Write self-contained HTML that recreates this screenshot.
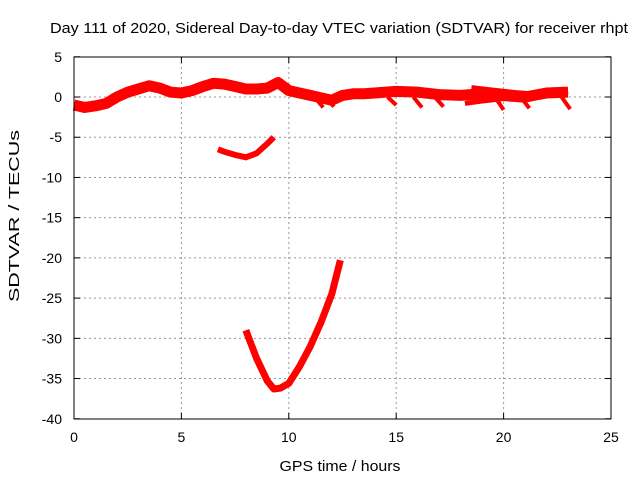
<!DOCTYPE html>
<html><head><meta charset="utf-8"><style>
body{margin:0;background:#fff;}
svg{display:block;font-family:"Liberation Sans",sans-serif;}
</style></head><body>
<svg id="c" width="640" height="480">
<text x="339" y="33" font-size="15" text-anchor="middle" textLength="578" lengthAdjust="spacingAndGlyphs">Day 111 of 2020, Sidereal Day-to-day VTEC variation (SDTVAR) for receiver rhpt</text>
<text x="340" y="471" font-size="15" text-anchor="middle" textLength="121" lengthAdjust="spacingAndGlyphs">GPS time / hours</text>
<text x="19" y="216" font-size="15" text-anchor="middle" textLength="172" lengthAdjust="spacingAndGlyphs" transform="rotate(-90 19 216)">SDTVAR / TECUs</text>
<g id="grid"></g><g id="ticks"></g><g id="series"></g>
<rect x="74" y="57" width="537" height="362" fill="none" stroke="#000"/>
</svg>
<script>
const xTicks=[0,5,10,15,20,25];
const yTicks=[5,0,-5,-10,-15,-20,-25,-30,-35,-40];
const bandTime=[0,0.5,1,1.5,2,2.5,3,3.5,4,4.5,5,5.5,6,6.5,7,7.5,8,8.5,9,9.5,10,10.5,11,11.5,12,12.5,13,13.5,14,15,16,17,18,19,20,21,22,23];
const bandValue=[-1,-1.3,-1.1,-0.8,0,0.6,1,1.4,1.1,0.6,0.5,0.8,1.3,1.7,1.6,1.3,1.0,1.0,1.1,1.8,0.8,0.5,0.2,-0.1,-0.4,0.2,0.4,0.4,0.5,0.7,0.6,0.3,0.2,0.4,0.3,0,0.5,0.6];
const strandTime=[18.5,19.5,20.5,21.5,22.5,23];
const strandValue=[1.1,0.8,0.5,0.3,0.6,0.8];
const lowTime=[18.2,19,20,21,21.5];
const lowValue=[-0.8,-0.5,-0.2,-0.4,-0.1];
const spikeTime=[11.2,11.7,14.6,15.8,16.8,19.6,20.8,22.7];
const spikeValue=[-1.3,-1.2,-1.0,-1.3,-1.2,-1.6,-1.4,-1.5];
const arc1Time=[6.7,7,7.5,8,8.5,9,9.3];
const arc1Value=[-6.5,-6.8,-7.2,-7.5,-7,-5.8,-5];
const arc2Time=[8,8.5,9,9.3,9.6,10,10.5,11,11.5,12,12.4];
const arc2Value=[-29,-32.5,-35.3,-36.3,-36.2,-35.6,-33.5,-31,-28,-24.5,-20.3];
const NS="http://www.w3.org/2000/svg";
const X=t=>74+t*537/25, Y=v=>97-v*8.044;
function mk(tag,attrs,parent){const e=document.createElementNS(NS,tag);for(const k in attrs)e.setAttribute(k,attrs[k]);document.getElementById(parent).appendChild(e);return e;}
xTicks.forEach(t=>{
 if(t>0&&t<25){const g=mk('line',{x1:X(t),x2:X(t),y1:57,y2:419,stroke:'#999','stroke-dasharray':'2,3'},'grid');
 
 }
 mk('line',{x1:X(t),x2:X(t),y1:419,y2:413,stroke:'#000'},'ticks');
 mk('line',{x1:X(t),x2:X(t),y1:57,y2:63,stroke:'#000'},'ticks');
 const l=mk('text',{x:X(t),y:442,'font-size':14,'text-anchor':'middle'},'ticks');l.textContent=t;
 
 
});
yTicks.forEach(v=>{
 if(v<5&&v>-40){const g=mk('line',{x1:74,x2:611,y1:Y(v),y2:Y(v),stroke:'#999','stroke-dasharray':'2,3'},'grid');
 
 }
 mk('line',{x1:74,x2:80,y1:Y(v),y2:Y(v),stroke:'#000'},'ticks');
 mk('line',{x1:605,x2:611,y1:Y(v),y2:Y(v),stroke:'#000'},'ticks');
 const l=mk('text',{x:62,y:Y(v)+5,'font-size':14,'text-anchor':'end'},'ticks');l.textContent=v;
 
 
});
function line(ts,vs,w,name){
 const p=mk('polyline',{points:ts.map((t,i)=>X(t)+','+Y(vs[i])).join(' '),fill:'none',stroke:'#f00','stroke-width':w,'stroke-linejoin':'round'},'series');
 
 
}
line(bandTime,bandValue,11,'sdtvar-main-band');
line(strandTime,strandValue,6,'sdtvar-upper-strand');
line(lowTime,lowValue,5,'sdtvar-lower-strand');
spikeTime.forEach((t,i)=>{
 const s=mk('line',{x1:X(t),y1:Y(0),x2:X(t+0.4),y2:Y(spikeValue[i]),stroke:'#f00','stroke-width':4},'series');
 
 
});
line(arc1Time,arc1Value,6,'sdtvar-arc-1');
line(arc2Time,arc2Value,7,'sdtvar-arc-2');
</script>
</body></html>
